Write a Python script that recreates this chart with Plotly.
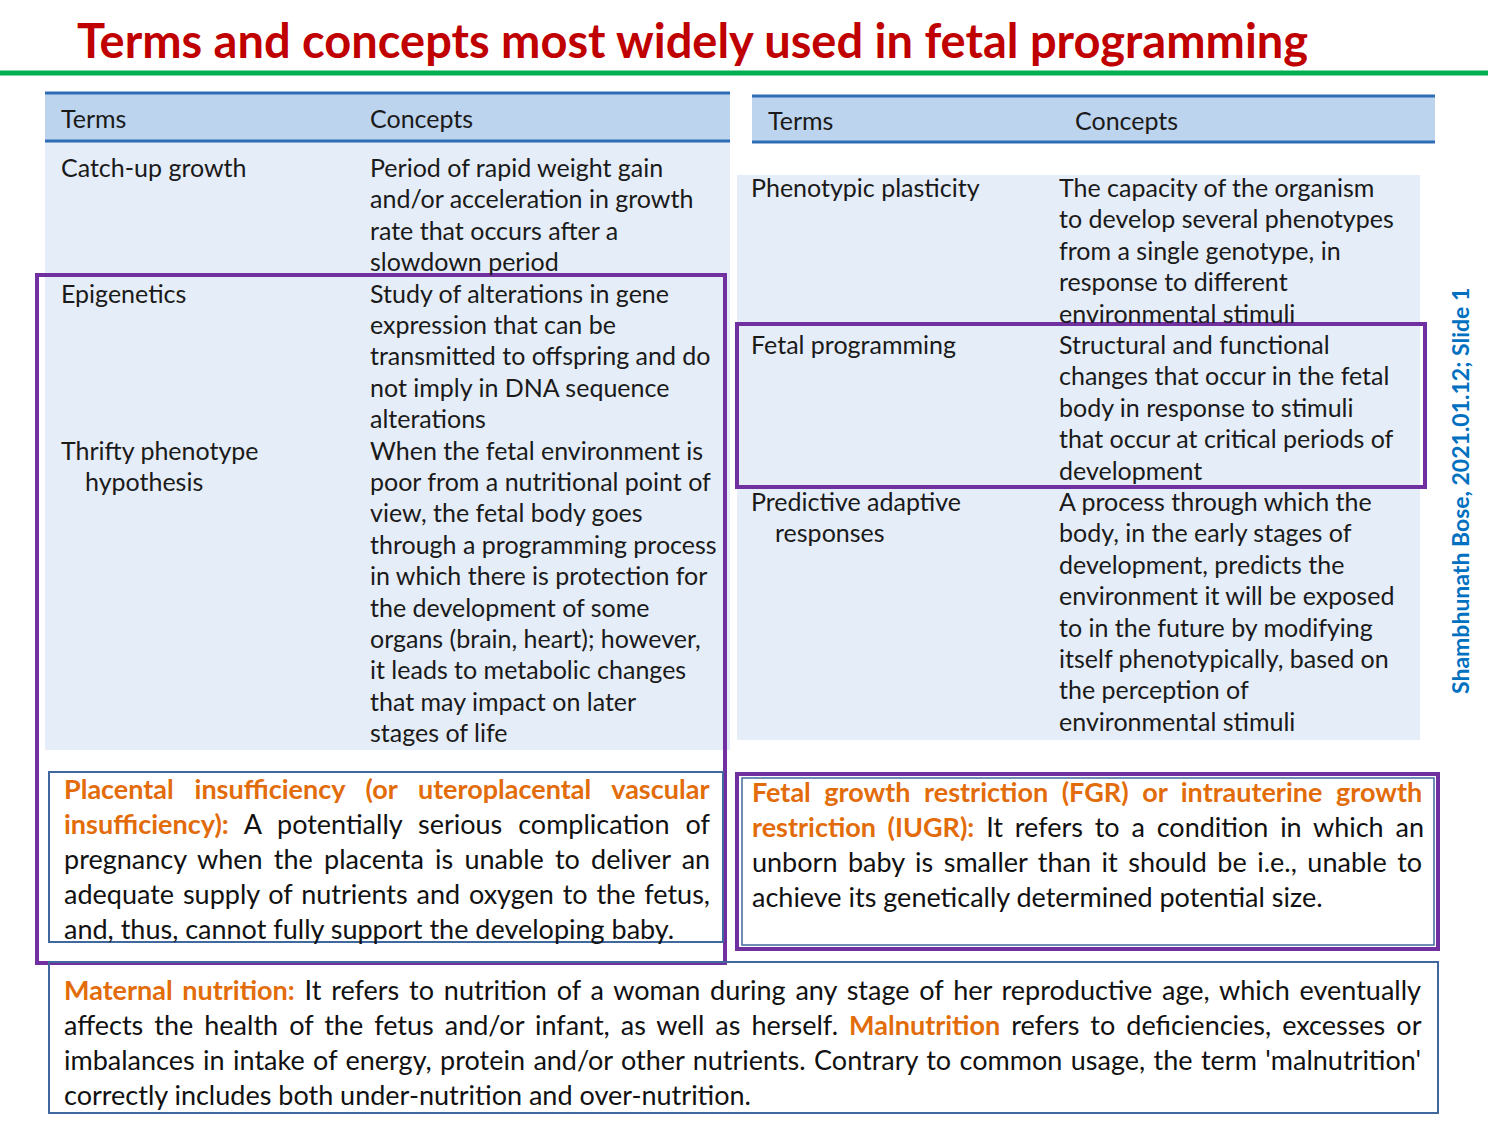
"""Slide: terms and concepts most widely used in fetal programming"""

import plotly.graph_objects as go

TITLE = "Terms and concepts most widely used in fetal programming"
SIDE_NOTE = "Shambhunath Bose, 2021.01.12; Slide 1"

HEADER = ["Terms", "Concepts"]

# left table: term lines and concept lines for each row
left_terms = [
    ["Catch-up growth"],
    ["Epigenetics"],
    ["Thrifty phenotype", "hypothesis"],
]
left_concepts = [
    ["Period of rapid weight gain", "and/or acceleration in growth",
     "rate that occurs after a", "slowdown period"],
    ["Study of alterations in gene", "expression that can be",
     "transmitted to offspring and do", "not imply in DNA sequence", "alterations"],
    ["When the fetal environment is", "poor from a nutritional point of",
     "view, the fetal body goes", "through a programming process",
     "in which there is protection for", "the development of some",
     "organs (brain, heart); however,", "it leads to metabolic changes",
     "that may impact on later", "stages of life"],
]

# right table
right_terms = [
    ["Phenotypic plasticity"],
    ["Fetal programming"],
    ["Predictive adaptive", "responses"],
]
right_concepts = [
    ["The capacity of the organism", "to develop several phenotypes",
     "from a single genotype, in", "response to different", "environmental stimuli"],
    ["Structural and functional", "changes that occur in the fetal",
     "body in response to stimuli", "that occur at critical periods of", "development"],
    ["A process through which the", "body, in the early stages of",
     "development, predicts the", "environment it will be exposed",
     "to in the future by modifying", "itself phenotypically, based on",
     "the perception of", "environmental stimuli"],
]

# definition boxes: (orange bold part, plain part) per line
placental_lines = [
    ("Placental insufficiency (or uteroplacental vascular", ""),
    ("insufficiency):", " A potentially serious complication of"),
    ("", "pregnancy when the placenta is unable to deliver an"),
    ("", "adequate supply of nutrients and oxygen to the fetus,"),
    ("", "and, thus, cannot fully support the developing baby."),
]
fgr_lines = [
    ("Fetal growth restriction (FGR) or intrauterine growth", ""),
    ("restriction (IUGR):", " It refers to a condition in which an"),
    ("", "unborn baby is smaller than it should be i.e., unable to"),
    ("", "achieve its genetically determined potential size."),
]
maternal_lines = [
    ("Maternal nutrition:", " It refers to nutrition of a woman during any stage of her reproductive age, which eventually"),
    ("", "affects the health of the fetus and/or infant, as well as herself. "),
    ("", "imbalances in intake of energy, protein and/or other nutrients. Contrary to common usage, the term 'malnutrition'"),
    ("", "correctly includes both under-nutrition and over-nutrition."),
]
# second maternal line continues with a highlighted word
maternal_extra = {1: ("Malnutrition", " refers to deficiencies, excesses or")}

# extra word spacing (px) so the box paragraphs look justified
placental_ws = [14.2, 9.0, 4.3, 1.9, 0]
fgr_ws = [7.0, 4.9, 3.6, 0]
maternal_ws = [2.9, 4.1, 1.5, 0]

TABLE_FONT = "Lato"
TABLE_SIZE = 25
BODY_FONT = "Lato"
BODY_SIZE = 27
ORANGE = "#E36C0A"
PURPLE = "#7030A0"
HEAD_FILL = "#BDD4EE"
BODY_FILL = "#E5EDF8"
RULE = "#2E6CB5"
BOX_LINE = "#41689E"

LINE_H = 31.4
PAD = 3  # annotation inner padding

shapes = []
annotations = []


def rect(x0, y0, x1, y1, fill=None, color=None, width=0):
    shapes.append(dict(
        type="rect", xref="x", yref="y", x0=x0, y0=y0, x1=x1, y1=y1,
        fillcolor=fill or "rgba(0,0,0,0)",
        line=dict(color=color or "rgba(0,0,0,0)", width=width),
        layer="below" if fill else "above",
    ))


def hline(x0, x1, y, color, width):
    shapes.append(dict(type="line", xref="x", yref="y", x0=x0, x1=x1, y0=y, y1=y,
                       line=dict(color=color, width=width)))


def text(x, y, s, size, family, color="#1a1a1a"):
    annotations.append(dict(
        x=x - PAD, y=y, xref="x", yref="y", text=s, showarrow=False,
        xanchor="left", yanchor="middle", align="left",
        font=dict(family=family, size=size, color=color),
    ))


def table(head_x, head_y, body_x, body_y, term_x, concept_x, first_y, terms, concepts):
    rect(body_x[0], body_y[0], body_x[1], body_y[1], fill=BODY_FILL)
    rect(head_x[0], head_y[0], head_x[1], head_y[1], fill=HEAD_FILL)
    hline(head_x[0], head_x[1], head_y[0], RULE, 3)
    hline(head_x[0], head_x[1], head_y[1], RULE, 3)
    hy = (head_y[0] + head_y[1]) / 2 + 1
    text(head_x[0] + 17, hy, HEADER[0], TABLE_SIZE, TABLE_FONT)
    text(concept_x + (16 if head_x[0] != body_x[0] else 0), hy, HEADER[1], TABLE_SIZE, TABLE_FONT)
    y = first_y
    for t_lines, c_lines in zip(terms, concepts):
        for i, t in enumerate(t_lines):
            text(term_x + (24 if i else 0), y + i * LINE_H, t, TABLE_SIZE, TABLE_FONT)
        for i, c in enumerate(c_lines):
            text(concept_x, y + i * LINE_H, c, TABLE_SIZE, TABLE_FONT)
        y += len(c_lines) * LINE_H


def box_text(x, y0, lines, step, ws, extra=None):
    extra = extra or {}
    for i, (hl, rest) in enumerate(lines):
        sp = f"word-spacing:{ws[i]}px"
        s = ""
        if hl:
            s += f"<span style='color:{ORANGE};{sp}'><b>{hl}</b></span>"
        if rest:
            s += f"<span style='{sp}'>{rest}</span>"
        if i in extra:
            s += f"<span style='color:{ORANGE};{sp}'><b>{extra[i][0]}</b></span>"
            s += f"<span style='{sp}'>{extra[i][1]}</span>"
        text(x, y0 + i * step, s, BODY_SIZE, BODY_FONT, "#111111")


# title and green rule
annotations.append(dict(
    x=692, y=40, xref="x", yref="y", text=f"<b>{TITLE}</b>", showarrow=False,
    xanchor="center", yanchor="middle",
    font=dict(family=BODY_FONT, size=47, color="#C00000"),
))
hline(0, 1488, 73, "#00B050", 5)

# tables
table((45, 730), (93, 141), (45, 730), (142, 750), 62, 371, 167, left_terms, left_concepts)
table((752, 1435), (96, 142), (737, 1420), (175, 740), 752, 1060, 187, right_terms, right_concepts)

# highlight frames
rect(37, 275, 725, 963, color=PURPLE, width=4)
rect(737, 324, 1425, 487, color=PURPLE, width=4)

# definition boxes
rect(49, 772, 723, 942, color=BOX_LINE, width=2)
box_text(65, 788, placental_lines, 35.2, placental_ws)

rect(742, 778, 1434, 945, color=BOX_LINE, width=1.5)
rect(737, 774, 1438, 949, color=PURPLE, width=4)
box_text(753, 791, fgr_lines, 35, fgr_ws)

rect(49, 962, 1438, 1113, color=BOX_LINE, width=2)
box_text(65, 989, maternal_lines, 35, maternal_ws, maternal_extra)

# vertical side note
annotations.append(dict(
    x=1460, y=491, xref="x", yref="y", text=f"<b>{SIDE_NOTE}</b>", showarrow=False,
    textangle=-90, xanchor="center", yanchor="middle",
    font=dict(family=BODY_FONT, size=23, color="#0070C0"),
))

fig = go.Figure()
fig.update_layout(
    width=1500, height=1125,
    margin=dict(l=0, r=0, t=0, b=0),
    paper_bgcolor="white", plot_bgcolor="white",
    xaxis=dict(range=[0, 1500], visible=False, fixedrange=True),
    yaxis=dict(range=[1125, 0], visible=False, fixedrange=True),
    shapes=shapes, annotations=annotations,
    showlegend=False,
)

fig.write_html("out.html", config={"displayModeBar": False},
               post_script="document.body.style.margin='0';")
